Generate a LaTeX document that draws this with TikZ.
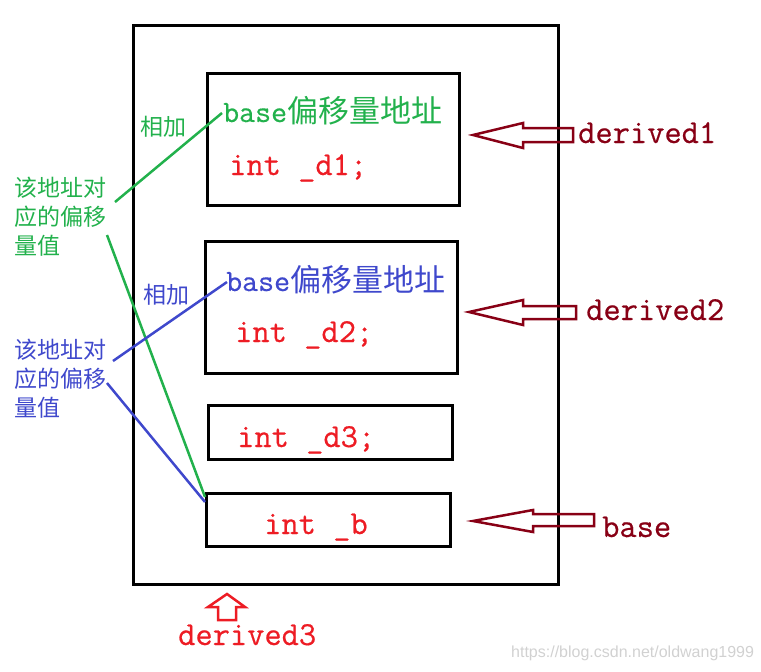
\documentclass[tikz,border=0pt]{standalone}
\usepackage{fontspec}
\setmonofont{Latin Modern Mono}[FakeBold=0.5]
\newfontfamily\cjk{Noto Sans CJK SC}
\newfontfamily\wmfont{Liberation Sans}
\definecolor{pgreen}{RGB}{34,177,76}
\definecolor{pblue}{RGB}{63,72,204}
\definecolor{pred}{RGB}{237,28,36}
\definecolor{pdred}{RGB}{136,0,21}
\begin{document}
\begin{tikzpicture}[x=1pt,y=-1pt,
  box/.style={draw=black, line width=3pt, inner sep=0pt, outer sep=0pt, rectangle},
  mono/.style={font=\ttfamily\fontsize{33.5}{40}\selectfont, inner sep=0pt, anchor=base west},
  code/.style={mono, text=pred},
  tag/.style={mono, text=pdred},
  addr/.style={inner sep=0pt, anchor=base west, font=\fontsize{31}{36}\selectfont},
  small/.style={inner sep=0pt, anchor=base west, font=\cjk\fontsize{23}{29}\selectfont},
  note/.style={small, align=left},
  hollow/.style={draw=pdred, line width=2.5pt, line join=miter},
  uparrow/.style={draw=pred, line width=2.5pt, line join=miter},
  link/.style={line width=2.5pt},
  wm/.style={inner sep=0pt, anchor=base west, font=\wmfont\fontsize{16}{19}\selectfont, text=black!18}
]
\useasboundingbox (0,0) rectangle (761,672);

% boxes
\node[box, minimum width=425pt, minimum height=559pt] (outer) at (345.5,304.5) {};
\node[box, minimum width=252pt, minimum height=132pt] (b1) at (333,139) {};
\node[box, minimum width=252pt, minimum height=132pt] (b2) at (331,307) {};
\node[box, minimum width=244pt, minimum height=54pt] (b3) at (330,432) {};
\node[box, minimum width=244pt, minimum height=53pt] (b4) at (328,519.5) {};

% box contents
\node[addr, text=pgreen] (a1) at (223,122) {{\ttfamily base}{\cjk 偏移量地址}};
\node[code] (d1) at (229,175) {int \_d1;};
\node[addr, text=pblue] (a2) at (226,291) {{\ttfamily base}{\cjk 偏移量地址}};
\node[code] (d2) at (235,342) {int \_d2;};
\node[code] (d3) at (237,447) {int \_d3;};
\node[code] (db) at (264,534) {int \_b};

% left notes (base anchor = last line)
\node[small, text=pgreen] (add1) at (140,135) {相加};
\node[note, text=pgreen] (n1) at (14,254) {该地址对\\应的偏移\\量值};
\node[small, text=pblue] (add2) at (143,303) {相加};
\node[note, text=pblue] (n2) at (14,416) {该地址对\\应的偏移\\量值};

% connectors
\coordinate (gs1) at (115,202);
\coordinate (ge1) at (222,113);
\coordinate (gs2) at (107,235);
\coordinate (ge2) at (205,497);
\coordinate (bs1) at (113,361);
\coordinate (be1) at (227,282);
\coordinate (bs2) at (107,383);
\coordinate (be2) at (205,502);
\draw[link, pgreen] (gs1) -- (ge1);
\draw[link, pgreen] (gs2) -- (ge2);
\draw[link, pblue] (bs1) -- (be1);
\draw[link, pblue] (bs2) -- (be2);

% hollow arrows and labels
\draw[hollow] (473,135) -- (523,123) -- (523,128) -- (573,128) -- (573,142) -- (523,142) -- (523,148) -- cycle;
\node[tag] (t1) at (578,143) {derived1};
\draw[hollow] (469,312) -- (523,300) -- (523,306) -- (576,306) -- (576,319) -- (523,319) -- (523,325) -- cycle;
\node[tag] (t2) at (586,320) {derived2};
\draw[hollow] (473,521) -- (533,510) -- (533,514) -- (594,514) -- (594,526) -- (533,526) -- (533,532) -- cycle;
\node[tag] (t3) at (602,537) {base};
\draw[uparrow] (227,594) -- (245,607) -- (236,607) -- (236,620) -- (218,620) -- (218,607) -- (208,607) -- cycle;
\node[code] (t4) at (178,645) {derived3};

% watermark
\node[wm] (wmk) at (511,657) {https://blog.csdn.net/oldwang1999};
\end{tikzpicture}
\end{document}
